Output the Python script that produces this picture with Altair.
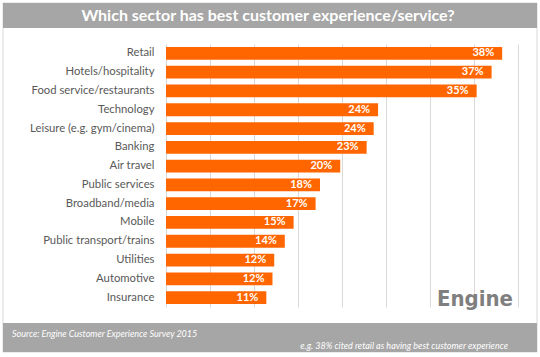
import altair as alt
import pandas as pd

sectors = ["Retail", "Hotels/hospitality", "Food service/restaurants", "Technology",
           "Leisure (e.g. gym/cinema)", "Banking", "Air travel", "Public services",
           "Broadband/media", "Mobile", "Public transport/trains", "Utilities",
           "Automotive", "Insurance"]
values = [38.2, 37.0, 35.3, 24.1, 23.6, 22.8, 19.8, 17.5, 17.0, 14.5, 13.5, 12.3, 12.1, 11.4]
labels = ["38%", "37%", "35%", "24%", "24%", "23%", "20%", "18%", "17%", "15%", "14%",
          "12%", "12%", "11%"]

title_text = "Which sector has best customer experience/service?"
source_text = "Source: Engine Customer Experience Survey 2015"
note_text = "e.g. 38% cited retail as having best customer experience"
logo_text = "Engine"

df = pd.DataFrame({"sector": sectors, "value": values, "label": labels})
one = pd.DataFrame({"t": [title_text], "s": [source_text], "n": [note_text], "l": [logo_text]})

FONT = "Lato"
ORANGE = "#ff6600"
BAND = "#a6a6a6"

W, H = 352, 263
L, T = 166, 44

y_enc = alt.Y("sector:N", sort=sectors,
              scale=alt.Scale(paddingInner=0.32, paddingOuter=0.16),
              axis=alt.Axis(title=None, domain=False, ticks=False, labelPadding=12,
                            labelFont=FONT, labelFontSize=11.3, labelColor="#595959"))
x_enc = alt.X("value:Q", scale=alt.Scale(domain=[0, 40], nice=False),
              axis=alt.Axis(title=None, domain=False, ticks=False, labels=False,
                            values=[0, 5, 10, 15, 20, 25, 30, 35, 40],
                            grid=True, gridColor="#d9d9d9", gridWidth=1))

bars = alt.Chart(df).mark_bar(color=ORANGE).encode(x=x_enc, y=y_enc)
text = alt.Chart(df).mark_text(align="right", baseline="middle", dx=-8, color="white",
                               font=FONT, fontSize=11, fontWeight="bold").encode(
    x="value:Q", y=alt.Y("sector:N", sort=sectors), text="label:N")

def rect(x1, x2, y1, y2, **kw):
    return alt.Chart(one).mark_rect(**kw).encode(
        x=alt.value(x1 - L), x2=alt.value(x2 - L), y=alt.value(y1 - T), y2=alt.value(y2 - T))

border = rect(3, 537, 3, 352, fill="white", fillOpacity=0, stroke="#d9d9d9", strokeWidth=1)
top_band = rect(3, 537, 3, 28, color=BAND)
bot_band = rect(3, 537, 323, 352, color=BAND)

title = alt.Chart(one).mark_text(align="center", baseline="middle", color="white",
                                 font=FONT, fontSize=16, fontWeight="bold").encode(
    x=alt.value(268 - L), y=alt.value(16 - T), text="t:N")
source = alt.Chart(one).mark_text(align="left", baseline="middle", color="white",
                                  font=FONT, fontSize=9, fontStyle="italic").encode(
    x=alt.value(12 - L), y=alt.value(334 - T), text="s:N")
note = alt.Chart(one).mark_text(align="right", baseline="middle", color="white",
                                font=FONT, fontSize=9, fontStyle="italic").encode(
    x=alt.value(508 - L), y=alt.value(346 - T), text="n:N")
logo = alt.Chart(one).mark_text(align="center", baseline="alphabetic", color="#7f7f7f",
                                font="'DejaVu Sans Condensed', 'Liberation Sans Narrow', 'Roboto Condensed', Roboto, sans-serif",
                                fontSize=22, fontWeight="bold").encode(
    x=alt.value(475 - L), y=alt.value(306 - T), text="l:N")

chart = alt.layer(border, top_band, bot_band, bars, text, title, source, note, logo).properties(
    width=W, height=H,
    autosize=alt.AutoSizeParams(type="none"),
    padding={"left": L, "top": T, "right": 540 - L - W, "bottom": 357 - T - H},
    background="white",
).configure_view(strokeWidth=0)

chart.save("out.html", embed_options={"renderer": "svg", "actions": False})
